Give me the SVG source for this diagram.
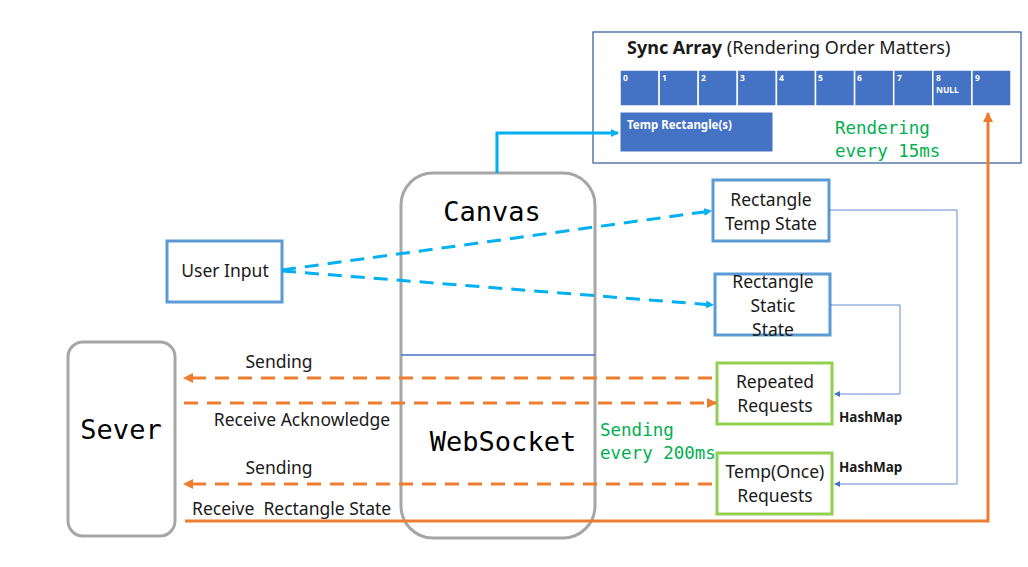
<svg xmlns="http://www.w3.org/2000/svg" width="1028" height="567" viewBox="0 0 1028 567">
<defs>
<style>
.t{font-family:"Noto Sans","Open Sans","DejaVu Sans",sans-serif;font-size:17.5px;fill:#1a1a1a}
.mono{font-family:"DejaVu Sans Mono","Liberation Mono",monospace;fill:#000}
.g{font-family:"DejaVu Sans Mono","Liberation Mono",monospace;font-size:17.5px;fill:#00B050}
.bnode{fill:#fff;stroke:#5B9BD5;stroke-width:3}
.gnode{fill:#fff;stroke:#92D050;stroke-width:3}
.big{fill:#fff;stroke:#A6A6A6;stroke-width:3}
.cell{fill:#4472C4;stroke:#fff;stroke-width:1.5}
.cl{font-family:"Noto Sans","DejaVu Sans",sans-serif;font-size:8.5px;font-weight:bold;fill:#fff}
.hm{font-family:"Noto Sans","DejaVu Sans",sans-serif;font-size:13.5px;font-weight:bold;fill:#1a1a1a}
.cyan{fill:none;stroke:#00B0F0;stroke-width:3}
.cyd{fill:none;stroke:#00B0F0;stroke-width:3;stroke-dasharray:14 9}
.ord{fill:none;stroke:#ED7D31;stroke-width:3;stroke-dasharray:14 9}
.ors{fill:none;stroke:#ED7D31;stroke-width:3}
.thin{fill:none;stroke:#4472C4;stroke-width:1;stroke-opacity:0.8}
</style>
<marker id="ac" markerWidth="8" markerHeight="8" refX="7" refY="4" orient="auto" markerUnits="userSpaceOnUse" viewBox="0 0 8 8"><path d="M0,0 L8,4 L0,8 z" fill="#00B0F0"/></marker>
<marker id="ao" markerWidth="10" markerHeight="10" refX="9" refY="5" orient="auto" markerUnits="userSpaceOnUse" viewBox="0 0 10 10"><path d="M0,0 L10,5 L0,10 z" fill="#ED7D31"/></marker>
<marker id="ab" markerWidth="6" markerHeight="6" refX="5" refY="3" orient="auto" markerUnits="userSpaceOnUse" viewBox="0 0 6 6"><path d="M0,0 L6,3 L0,6 z" fill="#4472C4"/></marker>
</defs>
<rect width="1028" height="567" fill="#fff"/>

<g id="sync-array">
<rect x="593" y="32" width="428" height="131" fill="#fff" stroke="#2F5597" stroke-width="1.2"/>
<text x="627" y="54" font-family="Noto Sans,Open Sans,sans-serif" font-size="18" fill="#1a1a1a"><tspan font-weight="bold">Sync Array</tspan> (Rendering Order Matters)</text>
<rect class="cell" x="620" y="70" width="39.1" height="36"/>
<rect class="cell" x="659.1" y="70" width="39.1" height="36"/>
<rect class="cell" x="698.2" y="70" width="39.1" height="36"/>
<rect class="cell" x="737.3" y="70" width="39.1" height="36"/>
<rect class="cell" x="776.4" y="70" width="39.1" height="36"/>
<rect class="cell" x="815.5" y="70" width="39.1" height="36"/>
<rect class="cell" x="854.6" y="70" width="39.1" height="36"/>
<rect class="cell" x="893.7" y="70" width="39.1" height="36"/>
<rect class="cell" x="932.8" y="70" width="39.1" height="36"/>
<rect class="cell" x="971.9" y="70" width="39.1" height="36"/>
<text class="cl" x="623" y="81">0</text>
<text class="cl" x="662" y="81">1</text>
<text class="cl" x="701" y="81">2</text>
<text class="cl" x="740" y="81">3</text>
<text class="cl" x="779" y="81">4</text>
<text class="cl" x="818" y="81">5</text>
<text class="cl" x="857" y="81">6</text>
<text class="cl" x="897" y="81">7</text>
<text class="cl" x="936" y="81">8</text>
<text class="cl" x="936" y="93">NULL</text>
<text class="cl" x="975" y="81">9</text>
<rect x="620" y="112" width="153" height="40" fill="#4472C4" stroke="#fff" stroke-width="1"/>
<text x="627" y="129" font-family="Noto Sans,DejaVu Sans,sans-serif" font-size="11.5" font-weight="bold" fill="#fff">Temp Rectangle(s)</text>
<text class="g" x="835" y="134">Rendering</text>
<text class="g" x="835" y="157">every 15ms</text>
</g>

<g id="canvas-websocket">
<rect class="big" x="401" y="173" width="194" height="365" rx="32"/>
<line x1="401" y1="355" x2="595" y2="355" stroke="#4472C4" stroke-width="1.5"/>
<text class="mono" x="492" y="221" font-size="27" text-anchor="middle">Canvas</text>
<text class="mono" x="503" y="451" font-size="27" text-anchor="middle">WebSocket</text>
</g>

<g id="server">
<rect class="big" x="68" y="342" width="107" height="194" rx="15"/>
<text class="mono" x="121" y="439" font-size="27" text-anchor="middle">Sever</text>
</g>

<g id="user-input">
<rect class="bnode" x="167" y="241" width="115" height="61"/>
<text class="t" x="225" y="277" text-anchor="middle">User Input</text>
</g>

<g id="rect-temp-state">
<rect class="bnode" x="713" y="180" width="116" height="61"/>
<text class="t" x="771" y="206" text-anchor="middle">Rectangle</text>
<text class="t" x="771" y="230" text-anchor="middle">Temp State</text>
</g>

<g id="rect-static-state">
<rect class="bnode" x="715" y="274" width="115" height="61"/>
<text class="t" x="773" y="288" text-anchor="middle">Rectangle</text>
<text class="t" x="773" y="312" text-anchor="middle">Static</text>
<text class="t" x="773" y="336" text-anchor="middle">State</text>
</g>

<g id="repeated-requests">
<rect class="gnode" x="717" y="363" width="115" height="61"/>
<text class="t" x="775" y="388" text-anchor="middle">Repeated</text>
<text class="t" x="775" y="412" text-anchor="middle">Requests</text>
</g>

<g id="temp-requests">
<rect class="gnode" x="717" y="453" width="115" height="61"/>
<text class="t" x="775" y="478" text-anchor="middle">Temp(Once)</text>
<text class="t" x="775" y="502" text-anchor="middle">Requests</text>
</g>

<g id="connectors">
<polyline class="cyan" points="497,173 497,133 618,133" marker-end="url(#ac)"/>
<line class="cyd" x1="282" y1="270" x2="711" y2="211" marker-end="url(#ac)"/>
<line class="cyd" x1="282" y1="271" x2="713" y2="305" marker-end="url(#ac)"/>
<polyline class="thin" points="829,210 957,210 957,484 835,484" marker-end="url(#ab)"/>
<polyline class="thin" points="830,305 900,305 900,394 835,394" marker-end="url(#ab)"/>
<line class="ord" x1="712" y1="378" x2="184" y2="378" marker-end="url(#ao)"/>
<line class="ord" x1="184" y1="403" x2="716" y2="403" marker-end="url(#ao)"/>
<line class="ord" x1="712" y1="484" x2="184" y2="484" marker-end="url(#ao)"/>
<polyline class="ors" points="185,521 988,521 988,113" marker-end="url(#ao)"/>
<text class="t" x="279" y="368" text-anchor="middle">Sending</text>
<text class="t" x="302" y="426" text-anchor="middle">Receive Acknowledge</text>
<text class="t" x="279" y="474" text-anchor="middle">Sending</text>
<text class="t" x="192" y="515" xml:space="preserve">Receive  Rectangle State</text>
<text class="g" x="600" y="436">Sending</text>
<text class="g" x="600" y="459">every 200ms</text>
<text class="hm" x="839" y="422">HashMap</text>
<text class="hm" x="839" y="472">HashMap</text>
</g>
</svg>
